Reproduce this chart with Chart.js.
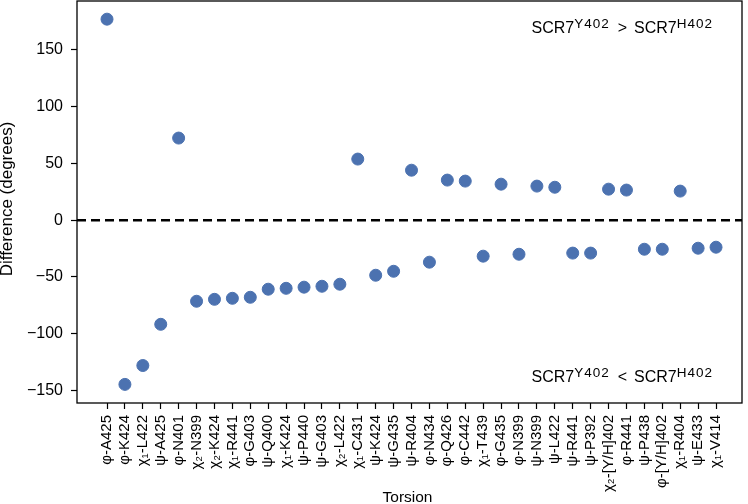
<!DOCTYPE html>
<html>
<head>
<meta charset="utf-8">
<script src="https://cdn.jsdelivr.net/npm/chart.js@4"></script>
<style>
  html, body { margin: 0; padding: 0; background: #fff; }
  #wrap { width: 748px; height: 504px; }
</style>
</head>
<body>
<div id="wrap"><canvas id="chart"></canvas></div>
<script>
// torsion names along x
const torsions = [
    'φ-A425', 'φ-K424', 'χ₁-L422', 'ψ-A425', 'φ-N401', 'χ₂-N399', 'χ₂-K424',
    'χ₁-R441', 'φ-G403', 'ψ-Q400', 'χ₁-K424', 'ψ-P440', 'ψ-G403', 'χ₂-L422',
    'χ₁-C431', 'ψ-K424', 'ψ-G435', 'ψ-R404', 'φ-N434', 'φ-Q426', 'φ-C442',
    'χ₁-T439', 'φ-G435', 'φ-N399', 'ψ-N399', 'ψ-L422', 'ψ-R441', 'ψ-P392',
    'χ₂-[Y/H]402', 'φ-R441', 'ψ-P438', 'φ-[Y/H]402', 'χ₁-R404', 'ψ-E433', 'χ₁-V414'
];
// difference in degrees
const differences = [
    177, -144.6, -128, -91.7, 72.3, -71.4, -69.7,
    -68.8, -67.9, -60.8, -60, -59, -58.2, -56.4,
    53.8, -48.5, -45, 44, -37, 35.3, 34.4,
    -31.7, 31.7, -30, 30, 29, -29, -29,
    27.3, 26.5, -25.6, -25.6, 25.6, -24.7, -23.8
];
const yTicks = [-150, -100, -50, 0, 50, 100, 150];

const FONT = "'Liberation Sans', Arial, sans-serif";

const points = differences.map((d, i) => ({ x: i, y: d }));

// zero line, frame, axis titles and the two labels
const extras = {
    id: 'extras',
    afterDatasetsDraw(chart) {
        const { ctx, chartArea: a, scales: { y } } = chart;
        const y0 = y.getPixelForValue(0);
        ctx.save();
        ctx.strokeStyle = '#000';
        ctx.lineWidth = 2.5;
        ctx.setLineDash([9, 5]);
        ctx.beginPath();
        ctx.moveTo(a.left, y0);
        ctx.lineTo(a.right, y0);
        ctx.stroke();
        ctx.setLineDash([]);
        ctx.lineWidth = 1.3;
        ctx.strokeRect(a.left, a.top, a.right - a.left, a.bottom - a.top);

        ctx.fillStyle = '#000';
        ctx.textBaseline = 'alphabetic';

        // axis titles
        ctx.font = '15.5px ' + FONT;
        ctx.textAlign = 'center';
        ctx.fillText('Torsion', (a.left + a.right) / 2 - 2, 502);
        ctx.save();
        ctx.translate(12, (a.top + a.bottom) / 2 - 3);
        ctx.rotate(-Math.PI / 2);
        ctx.font = '17px ' + FONT;
        ctx.fillText('Difference (degrees)', 0, 0);
        ctx.restore();

        function label(sign, x, baseline) {
            ctx.textAlign = 'left';
            const main = '16px ' + FONT, sup = '13.5px ' + FONT;
            const parts = [['SCR7', main, 0, 0], ['Y402', sup, 1, -5], [sign, main, 0, 0],
                           ['SCR7', main, 0, 0], ['H402', sup, 1, -5]];
            parts.forEach(([t, f, ls, dy], i) => {
                ctx.font = f;
                ctx.letterSpacing = ls + 'px';
                if (i === 2) x += 8;
                ctx.fillText(t, x, baseline + dy);
                x += ctx.measureText(t).width;
                if (i === 2) x += 7;
            });
            ctx.letterSpacing = '0px';
        }
        label('>', a.right - 210.5, a.top + 31.5);
        label('<', a.right - 210.5, a.bottom - 21.5);
        ctx.restore();
    }
};

new Chart(document.getElementById('chart'), {
    type: 'scatter',
    data: {
        datasets: [{
            data: points,
            backgroundColor: '#4c72b0',
            borderColor: '#4c72b0',
            pointRadius: 6,
            pointHoverRadius: 6
        }]
    },
    options: {
        responsive: true,
        maintainAspectRatio: false,
        animation: false,
        layout: { autoPadding: false, padding: { top: 1, right: 6, left: 0, bottom: 0 } },
        plugins: {
            legend: { display: false },
            tooltip: { enabled: false }
        },
        scales: {
            x: {
                type: 'linear',
                min: -1.675,
                max: 35.45,
                afterBuildTicks(scale) {
                    scale.ticks = torsions.map((_, i) => ({ value: i }));
                },
                afterFit(scale) {
                    scale.height = 101;
                    scale.paddingLeft = 0;
                    scale.paddingRight = 0;
                },
                grid: { drawOnChartArea: false, tickLength: 6, color: '#000', tickWidth: 1.2 },
                border: { display: false },
                ticks: {
                    minRotation: 90,
                    maxRotation: 90,
                    autoSkip: false,
                    color: '#000',
                    padding: 6,
                    font: { family: FONT, size: 15 },
                    callback: v => torsions[v] ?? ''
                }
            },
            y: {
                min: -161,
                max: 193,
                afterBuildTicks(scale) {
                    scale.ticks = yTicks.map(v => ({ value: v }));
                },
                afterFit(scale) {
                    scale.width = 77;
                    scale.paddingTop = 0;
                    scale.paddingBottom = 0;
                },
                grid: { drawOnChartArea: false, tickLength: 6, color: '#000', tickWidth: 1.2 },
                border: { display: false },
                ticks: {
                    color: '#000',
                    padding: 8,
                    font: { family: FONT, size: 16 },
                    callback: v => v < 0 ? '\u2212' + Math.abs(v) : String(v)
                }
            }
        }
    },
    plugins: [extras]
});
</script>
</body>
</html>
